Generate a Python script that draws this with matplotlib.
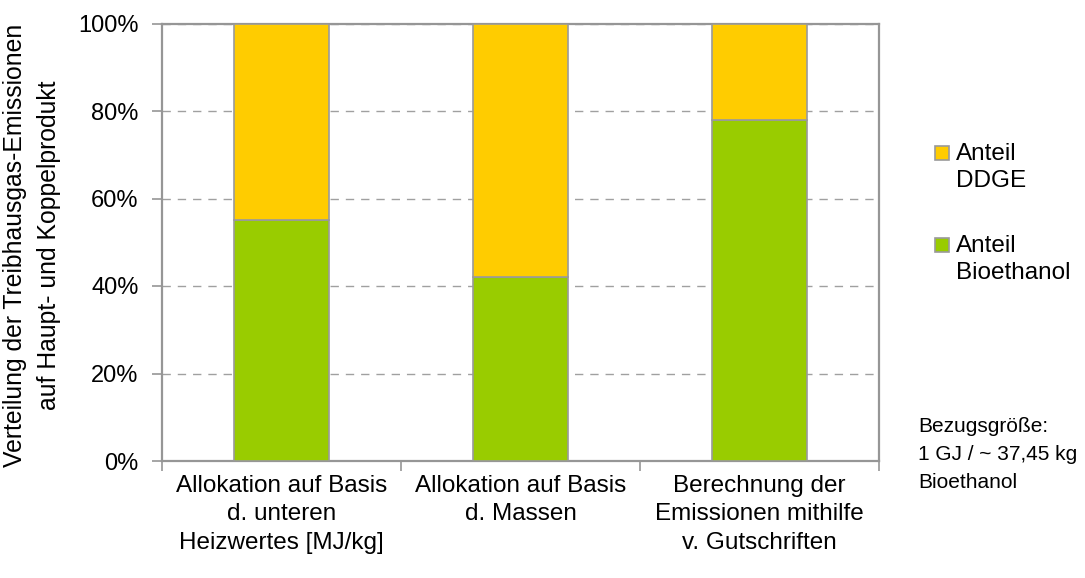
import matplotlib
matplotlib.use("Agg")
import matplotlib.pyplot as plt
from matplotlib.patches import Rectangle
from matplotlib.ticker import FixedLocator, PercentFormatter

plt.rcParams['font.family'] = ['Liberation Sans', 'DejaVu Sans']

# Data
categories = [
    "Allokation auf Basis\nd. unteren\nHeizwertes [MJ/kg]",
    "Allokation auf Basis\nd. Massen",
    "Berechnung der\nEmissionen mithilfe\nv. Gutschriften",
]
share_bioethanol = [55, 42, 78]
share_ddge = [45, 58, 22]
series_labels = ["Anteil\nDDGE", "Anteil\nBioethanol"]
y_ticks = [0, 20, 40, 60, 80, 100]

GREEN = "#99CC00"
YELLOW = "#FFCC00"
EDGE = "#9A9A9A"
AXIS = "#969696"

W, H = 1085, 578
fig = plt.figure(figsize=(W / 100, H / 100), dpi=100)
ax = fig.add_axes([162 / W, 1 - 461 / H, (879 - 162) / W, (461 - 23.5) / H])

x = list(range(len(categories)))
ax.bar(x, share_bioethanol, width=0.40, color=GREEN, edgecolor=EDGE,
       linewidth=1.2, zorder=3)
ax.bar(x, share_ddge, bottom=share_bioethanol, width=0.40, color=YELLOW,
       edgecolor=EDGE, linewidth=1.2, zorder=3)

ax.set_xlim(-0.5, len(categories) - 0.5)
ax.set_ylim(0, 100)
ax.set_yticks(y_ticks)
ax.yaxis.set_major_formatter(PercentFormatter(decimals=0))
ax.tick_params(axis='y', length=7, width=1.2, color=AXIS, labelsize=17, pad=10)

# category labels centred under bars, tick marks on the category boundaries
ax.set_xticks(x)
ax.set_xticklabels(categories, fontsize=17.5, linespacing=1.38)
ax.tick_params(axis='x', which='major', length=0, pad=10)
ax.xaxis.set_minor_locator(FixedLocator([i - 0.5 for i in range(len(categories) + 1)]))
ax.tick_params(axis='x', which='minor', length=7, width=1.2, color=AXIS)

for s in ax.spines.values():
    s.set_color(AXIS)
    s.set_linewidth(1.6)

ax.yaxis.grid(True, color="#A0A0A0", linewidth=1.0, dashes=(6, 5), zorder=0)
ax.set_axisbelow(True)


def px(xp, yp):
    return xp / W, 1 - yp / H


# y-axis title
lx, ly = px(32, 245)
fig.text(lx, ly, "Verteilung der Treibhausgas-Emissionen\nauf Haupt- und Koppelprodukt",
         fontsize=17.8, rotation=90, ha='center', va='center', linespacing=1.55)

# legend
for (ytop, color, label) in [(146, YELLOW, series_labels[0]),
                             (238, GREEN, series_labels[1])]:
    x0, y0 = px(935, ytop + 14)
    fig.add_artist(Rectangle((x0, y0), 14 / W, 14 / H, transform=fig.transFigure,
                             facecolor=color, edgecolor=EDGE, linewidth=1.2))
    tx, ty = px(956, ytop - 3)
    fig.text(tx, ty, label, fontsize=17.5, va='top', ha='left', linespacing=1.3)

bx, by = px(918, 417)
fig.text(bx, by, "Bezugsgröße:\n1 GJ / ~ 37,45 kg\nBioethanol", fontsize=15,
         va='top', ha='left', linespacing=1.6)

fig.savefig("out.png", dpi=100)
